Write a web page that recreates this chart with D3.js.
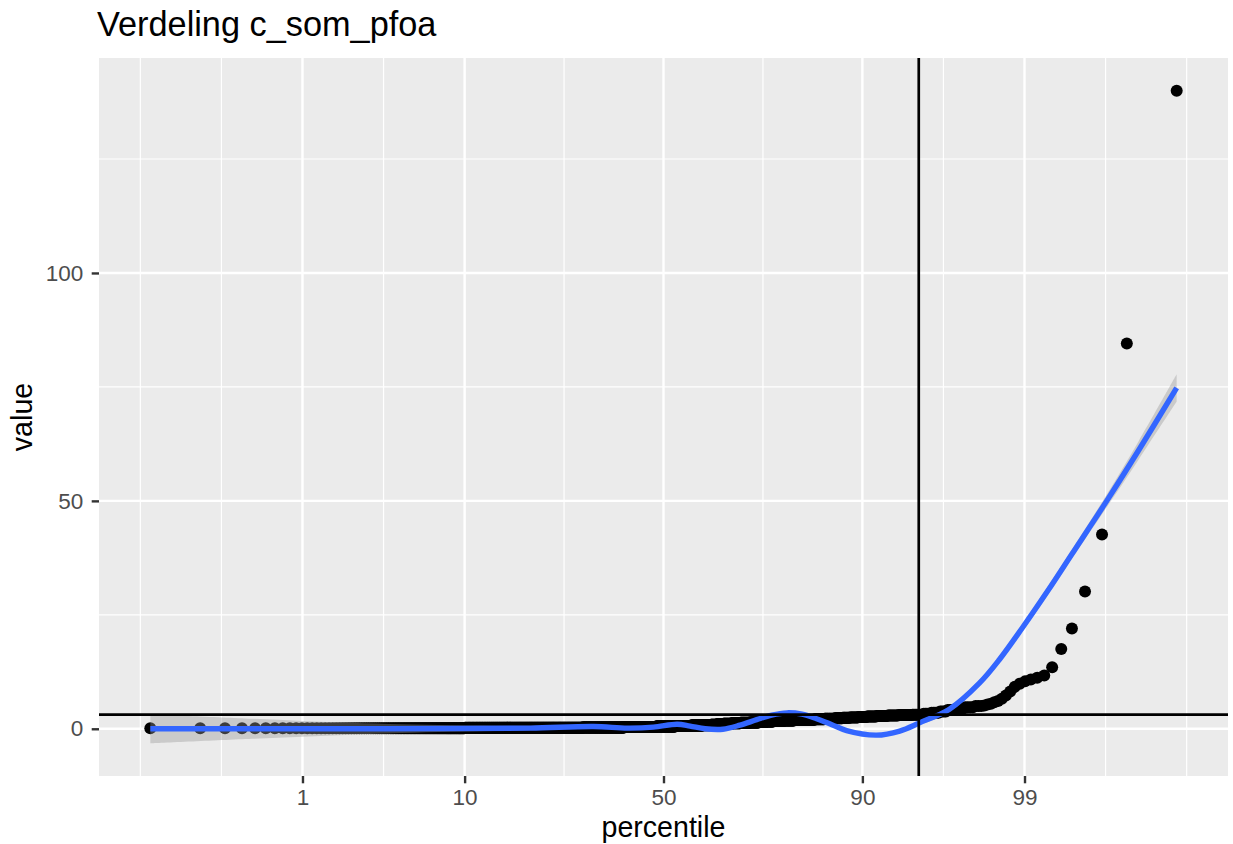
<!DOCTYPE html>
<html>
<head>
<meta charset="utf-8">
<script src="https://cdn.jsdelivr.net/npm/d3@7"></script>
<style>
  html, body { margin: 0; padding: 0; background: #ffffff; }
  svg { display: block; font-family: "Liberation Sans", Arial, Helvetica, sans-serif; }
</style>
</head>
<body>
<svg id="chart" width="1233" height="844"></svg>
<script>
// ---- data ---------------------------------------------------------------
const chartTitle = "Verdeling c_som_pfoa";
const xLabel = "percentile";
const yLabel = "value";

// sorted measurements of c_som_pfoa, stored as value levels with their counts
const valueLevels = [0.1, 0.2, 0.3, 0.4, 0.5, 0.6, 0.7, 0.8, 0.9, 1.0,
                     1.1, 1.2, 1.3, 1.4, 1.5, 1.6, 1.7, 1.8, 1.9, 2.0,
                     2.1, 2.2, 2.3, 2.4, 2.5, 2.6, 2.7, 2.8, 2.9, 3.0,
                     3.1, 3.3, 3.5, 3.8, 4.1, 4.4, 4.7, 5.0];
const levelCounts = [106, 212, 106, 85, 53, 42, 32, 21, 16, 16,
                     21, 21, 22, 21, 16, 16, 21, 21, 21, 16,
                     16, 16, 11, 10, 11, 10, 11, 11, 10, 11,
                     8, 5, 5, 4, 4, 4, 4, 3];
// the highest measurements, one by one
const upperTail = [5.1, 5.3, 5.5, 5.8, 6.1, 6.6, 7.3, 8.2, 9.2, 9.9,
                   10.4, 10.8, 11.2, 11.7, 13.5, 17.5, 22.0, 30.1, 42.6, 84.5, 140.0];

// smoothed trend (fit and 95% band half-width) along the percentile axis
const smoothPercentiles = [0.0472, 0.4, 2.2, 8.5, 19.6, 32.6, 40.8, 47.4, 53.5, 56.8,
                           60.6, 64.9, 68.9, 72.6, 75.7, 78.7, 81.4, 83.8, 86.1, 88.1,
                           91.5, 93.6, 95.05, 96.73, 97.91, 98.48, 98.96, 99.33, 99.577, 99.787,
                           99.890, 99.9528];
const smoothFit = [0.0, 0.0, 0.0, 0.05, 0.15, 0.5, 0.15, 0.35, 1.0, 0.6,
                   0.0, -0.1, 0.8, 2.0, 3.0, 3.5, 3.2, 2.2, 0.9, -0.4,
                   -1.4, -0.5, 1.3, 4.3, 10.0, 15.2, 22.1, 30.1, 38.4, 50.1,
                   61.1, 74.8];
const smoothHalfWidth = [3.2, 2.2, 1.3, 0.7, 0.5, 0.4, 0.4, 0.4, 0.4, 0.4,
                         0.4, 0.4, 0.4, 0.4, 0.4, 0.4, 0.4, 0.4, 0.4, 0.4,
                         0.4, 0.4, 0.5, 0.6, 0.6, 0.7, 0.8, 0.9, 1.0, 1.4,
                         2.0, 3.0];

const xTickPercentiles = [1, 10, 50, 90, 99];
const yTickValues = [0, 50, 100];
const referencePercentile = 95;

// ---- helpers ------------------------------------------------------------
// inverse standard normal CDF (Acklam's rational approximation)
function probit(p) {
  const a = [-3.969683028665376e+01, 2.209460984245205e+02, -2.759285104469687e+02,
             1.383577518672690e+02, -3.066479806614716e+01, 2.506628277459239e+00];
  const b = [-5.447609879822406e+01, 1.615858368580409e+02, -1.556989798598866e+02,
             6.680131188771972e+01, -1.328068155288572e+01];
  const c = [-7.784894002430293e-03, -3.223964580411365e-01, -2.400758277161838e+00,
             -2.549671348494584e+00, 4.374664141464968e+00, 2.938163982698783e+00];
  const d = [7.784695709041462e-03, 3.224671290700398e-01, 2.445134137142996e+00,
             3.754408661907416e+00];
  const pl = 0.02425, ph = 1 - pl;
  let q, r;
  if (p < pl) {
    q = Math.sqrt(-2 * Math.log(p));
    return (((((c[0]*q + c[1])*q + c[2])*q + c[3])*q + c[4])*q + c[5]) /
           ((((d[0]*q + d[1])*q + d[2])*q + d[3])*q + 1);
  }
  if (p <= ph) {
    q = p - 0.5; r = q * q;
    return (((((a[0]*r + a[1])*r + a[2])*r + a[3])*r + a[4])*r + a[5]) * q /
           (((((b[0]*r + b[1])*r + b[2])*r + b[3])*r + b[4])*r + 1);
  }
  q = Math.sqrt(-2 * Math.log(1 - p));
  return -(((((c[0]*q + c[1])*q + c[2])*q + c[3])*q + c[4])*q + c[5]) /
          ((((d[0]*q + d[1])*q + d[2])*q + d[3])*q + 1);
}

// minor grid positions: majors extended one step beyond each end,
// plus the points halfway between them
function minorBreaks(major, lo, hi) {
  let b = major.slice();
  if (lo < b[0]) b.unshift(b[0] - (b[1] - b[0]));
  const m = b.length;
  if (hi > b[m - 1]) b.push(b[m - 1] + (b[m - 1] - b[m - 2]));
  const out = [];
  for (let i = 0; i < b.length - 1; i++) out.push(b[i], (b[i] + b[i + 1]) / 2);
  out.push(b[b.length - 1]);
  return out.filter(v => v >= lo && v <= hi && !major.includes(v));
}

// ---- derived data -------------------------------------------------------
const values = [];
valueLevels.forEach((v, i) => { for (let k = 0; k < levelCounts[i]; k++) values.push(v); });
upperTail.forEach(v => values.push(v));
values.sort(d3.ascending);
const n = values.length;
// plotting positions (i - 0.5) / n
const points = values.map((v, i) => ({ pct: (i + 0.5) / n * 100, value: v }));
const referenceValue = d3.quantileSorted(values, referencePercentile / 100);

const smooth = smoothPercentiles.map((p, i) => ({
  pct: p, fit: smoothFit[i],
  lo: smoothFit[i] - smoothHalfWidth[i], hi: smoothFit[i] + smoothHalfWidth[i]
}));

// ---- layout -------------------------------------------------------------
const panel = { left: 99, right: 1228, top: 58, bottom: 776 };
const svg = d3.select("#chart");

const zExt = d3.extent(points, d => probit(d.pct / 100));
const zPad = (zExt[1] - zExt[0]) * 0.05;
const xZ = d3.scaleLinear().domain([zExt[0] - zPad, zExt[1] + zPad])
  .range([panel.left, panel.right]);
const xP = p => xZ(probit(p / 100));

const yMin = Math.min(d3.min(points, d => d.value), d3.min(smooth, d => d.lo));
const yMax = Math.max(d3.max(points, d => d.value), d3.max(smooth, d => d.hi));
const yPad = (yMax - yMin) * 0.05;
const y = d3.scaleLinear().domain([yMin - yPad, yMax + yPad])
  .range([panel.bottom, panel.top]);

// ---- panel & grid -------------------------------------------------------
svg.append("rect")
  .attr("x", panel.left).attr("y", panel.top)
  .attr("width", panel.right - panel.left).attr("height", panel.bottom - panel.top)
  .attr("fill", "#EBEBEB");

const xMajorZ = xTickPercentiles.map(p => probit(p / 100));
const xMinorZ = minorBreaks(xMajorZ, xZ.domain()[0], xZ.domain()[1]);
const yMinor = minorBreaks(yTickValues, y.domain()[0], y.domain()[1]);

const grid = svg.append("g");
grid.selectAll(".xminor").data(xMinorZ).join("line")
  .attr("x1", d => xZ(d)).attr("x2", d => xZ(d))
  .attr("y1", panel.top).attr("y2", panel.bottom)
  .attr("stroke", "#ffffff").attr("stroke-width", 1.2);
grid.selectAll(".yminor").data(yMinor).join("line")
  .attr("y1", d => y(d)).attr("y2", d => y(d))
  .attr("x1", panel.left).attr("x2", panel.right)
  .attr("stroke", "#ffffff").attr("stroke-width", 1.2);
grid.selectAll(".xmajor").data(xMajorZ).join("line")
  .attr("x1", d => xZ(d)).attr("x2", d => xZ(d))
  .attr("y1", panel.top).attr("y2", panel.bottom)
  .attr("stroke", "#ffffff").attr("stroke-width", 2.4);
grid.selectAll(".ymajor").data(yTickValues).join("line")
  .attr("y1", d => y(d)).attr("y2", d => y(d))
  .attr("x1", panel.left).attr("x2", panel.right)
  .attr("stroke", "#ffffff").attr("stroke-width", 2.4);

// ---- marks ----------------------------------------------------------------
svg.append("clipPath").attr("id", "panel-clip").append("rect")
  .attr("x", panel.left).attr("y", panel.top)
  .attr("width", panel.right - panel.left).attr("height", panel.bottom - panel.top);
const plot = svg.append("g").attr("clip-path", "url(#panel-clip)");

plot.append("g").selectAll("circle").data(points).join("circle")
  .attr("cx", d => xP(d.pct)).attr("cy", d => y(d.value))
  .attr("r", 6).attr("fill", "#000000");

plot.append("path").datum(smooth)
  .attr("d", d3.area().x(d => xP(d.pct)).y0(d => y(d.lo)).y1(d => y(d.hi))
    .curve(d3.curveCatmullRom.alpha(0.5)))
  .attr("fill", "#999999").attr("fill-opacity", 0.4);

plot.append("path").datum(smooth)
  .attr("d", d3.line().x(d => xP(d.pct)).y(d => y(d.fit))
    .curve(d3.curveCatmullRom.alpha(0.5)))
  .attr("fill", "none").attr("stroke", "#3366FF").attr("stroke-width", 5.4);

plot.append("line")
  .attr("x1", panel.left).attr("x2", panel.right)
  .attr("y1", y(referenceValue)).attr("y2", y(referenceValue))
  .attr("stroke", "#000000").attr("stroke-width", 2.7);
plot.append("line")
  .attr("x1", xP(referencePercentile)).attr("x2", xP(referencePercentile))
  .attr("y1", panel.top).attr("y2", panel.bottom)
  .attr("stroke", "#000000").attr("stroke-width", 2.7);

// ---- axes -----------------------------------------------------------------
const xAxis = svg.append("g").attr("transform", `translate(0,${panel.bottom})`)
  .call(d3.axisBottom(xZ).tickValues(xMajorZ)
    .tickFormat((d, i) => String(xTickPercentiles[i]))
    .tickSize(7.3).tickPadding(5.5));
const yAxis = svg.append("g").attr("transform", `translate(${panel.left},0)`)
  .call(d3.axisLeft(y).tickValues(yTickValues).tickFormat(d3.format("d"))
    .tickSize(7.3).tickPadding(8.4));
[xAxis, yAxis].forEach(g => {
  g.select(".domain").remove();
  g.selectAll(".tick line").attr("stroke", "#333333").attr("stroke-width", 2.4);
  g.selectAll(".tick text").attr("fill", "#4D4D4D")
    .style("font-size", "22.5px")
    .style("font-family", "'Liberation Sans', Arial, Helvetica, sans-serif");
});

// ---- titles ---------------------------------------------------------------
svg.append("text").attr("x", 97).attr("y", 36)
  .attr("font-size", 34.3).attr("fill", "#000000").text(chartTitle);
svg.append("text").attr("x", (panel.left + panel.right) / 2).attr("y", 837)
  .attr("text-anchor", "middle").attr("font-size", 28.6).attr("fill", "#000000")
  .text(xLabel);
svg.append("text")
  .attr("transform", `translate(31.5,${(panel.top + panel.bottom) / 2}) rotate(-90)`)
  .attr("text-anchor", "middle").attr("font-size", 28.6).attr("fill", "#000000")
  .text(yLabel);
</script>
</body>
</html>
